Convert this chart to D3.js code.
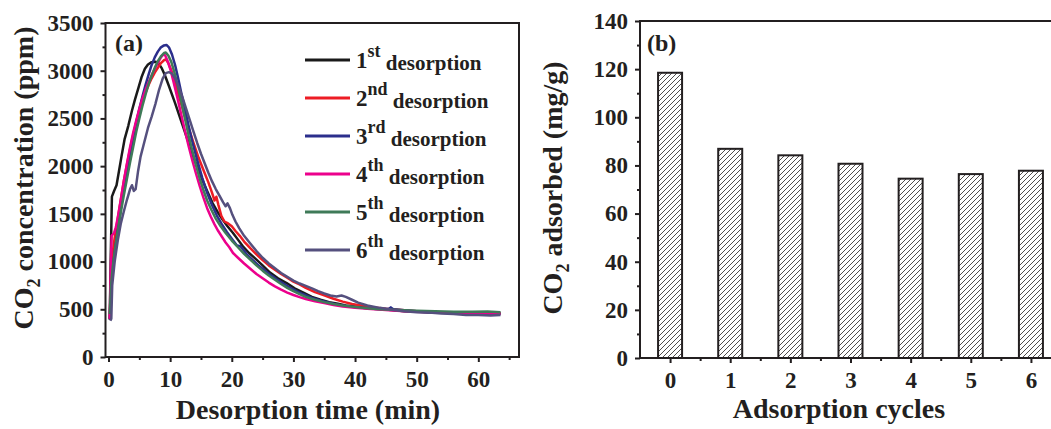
<!DOCTYPE html>
<html>
<head>
<meta charset="utf-8">
<script src="https://cdn.jsdelivr.net/npm/d3@7"></script>
<style>
  body { margin: 0; background: #fff; }
  svg text { font-family: "Liberation Serif", "Times New Roman", serif; font-weight: bold; fill: #231f20; }
</style>
</head>
<body>
<div id="chart"></div>
<script>
// ---- data: panel (a) CO2 concentration during desorption, [time (min), ppm]
const desorb1 = [[0.2,390],[0.35,1000],[0.55,1680],[0.9,1740],[1.3,1800],[1.7,1950],[2.1,2100],[2.6,2280],[3.2,2420],[3.8,2580],[4.3,2700],[4.9,2830],[5.4,2940],[5.9,3020],[6.4,3065],[7,3090],[7.6,3095],[8.1,3080],[8.6,3030],[9.1,2960],[9.8,2840],[10.8,2660],[11.9,2450],[12.8,2280],[13.6,2130],[14.4,1990],[15.2,1860],[16,1740],[16.9,1610],[17.7,1520],[18.5,1440],[19.3,1370],[20.2,1300],[21,1230],[21.8,1160],[22.8,1090],[24,1020],[25,960],[26.2,885],[27.5,825],[28.9,775],[30.2,720],[31.7,672],[33,630],[34.4,600],[35.8,575],[37.2,558],[38.5,540],[39.9,530],[41.3,520],[42.6,512],[44,505],[45.4,496],[46.8,488],[48.1,480],[50,476],[52,470],[53.6,470],[55.5,466],[57.5,464],[59.1,461],[61,462],[62.5,458],[63.6,460]];
const desorb2 = [[0.2,400],[0.4,800],[0.6,1050],[1,1250],[1.5,1450],[2,1650],[2.5,1850],[3,2020],[3.5,2180],[4,2330],[4.5,2460],[5,2580],[5.5,2680],[6,2770],[6.5,2850],[7,2920],[7.5,2980],[8,3030],[8.5,3080],[9,3110],[9.3,3120],[9.7,3080],[10.2,3000],[10.8,2880],[11.5,2720],[12.2,2560],[13,2400],[13.8,2240],[14.6,2090],[15.4,1960],[16.2,1830],[16.8,1720],[17.2,1640],[17.5,1680],[17.8,1600],[18.3,1480],[18.8,1420],[19.4,1400],[20,1370],[20.6,1320],[21.3,1270],[22,1210],[23,1140],[24,1075],[25,1015],[26,960],[27,915],[28,870],[29,830],[30,790],[31,760],[32,725],[33.5,680],[35,645],[36.5,610],[38,580],[39.5,555],[41,540],[43,520],[45,505],[47,495],[50,480],[53,470],[56,465],[59,460],[61.5,458],[63.6,455]];
const desorb3 = [[0.2,400],[0.5,850],[1,1100],[1.5,1330],[2,1550],[2.5,1760],[3,1950],[3.5,2130],[4,2300],[4.5,2460],[5,2600],[5.5,2730],[6,2850],[6.5,2960],[7,3060],[7.5,3140],[8,3200],[8.5,3245],[9,3265],[9.4,3270],[9.8,3245],[10.3,3170],[10.8,3060],[11.3,2920],[11.8,2770],[12.4,2600],[13,2420],[13.7,2230],[14.4,2060],[15.2,1880],[16,1720],[16.8,1590],[17.6,1480],[18.4,1390],[19.2,1310],[20,1240],[20.8,1170],[21.4,1160],[21.8,1130],[22.5,1070],[23.5,1010],[24.5,950],[25.5,900],[26.5,850],[27.5,805],[28.5,765],[29.5,725],[30.5,690],[31.5,660],[33,620],[34.5,590],[36,565],[37.5,545],[39,530],[40.5,520],[42,510],[44,500],[45.5,505],[45.8,520],[46.2,500],[48,490],[50,480],[53,472],[56,462],[59,455],[61.5,455],[63.6,450]];
const desorb4 = [[0.2,400],[0.35,900],[0.5,1270],[0.9,1300],[1.2,1360],[1.6,1500],[2,1650],[2.5,1850],[3,2030],[3.5,2200],[4,2350],[4.5,2480],[5,2600],[5.5,2710],[6,2800],[6.5,2880],[7,2950],[7.5,3020],[8,3080],[8.5,3140],[8.9,3170],[9.2,3160],[9.6,3100],[10.1,3000],[10.6,2870],[11.2,2710],[11.8,2540],[12.4,2370],[13,2210],[13.6,2060],[14.2,1920],[14.8,1790],[15.4,1670],[16,1560],[16.6,1470],[17.2,1390],[17.8,1320],[18.4,1260],[19,1200],[19.6,1150],[20.2,1090],[21,1040],[22,980],[23,925],[24,870],[25,825],[26,780],[27,740],[28,705],[29,675],[30,650],[31,628],[32,608],[33.5,585],[35,565],[36.5,545],[38,530],[40,515],[42,505],[45,492],[48,480],[51,472],[54,465],[57,460],[60,458],[62,455],[63.6,452]];
const desorb5 = [[0.2,450],[0.4,750],[0.7,950],[1,1100],[1.5,1320],[2,1520],[2.5,1700],[3,1870],[3.5,2040],[4,2200],[4.5,2360],[5,2500],[5.5,2630],[6,2750],[6.5,2860],[7,2950],[7.5,3030],[8,3100],[8.5,3150],[9,3185],[9.3,3190],[9.7,3160],[10.2,3090],[10.7,2980],[11.2,2850],[11.8,2680],[12.4,2500],[13,2320],[13.6,2160],[14.2,2010],[14.8,1870],[15.4,1750],[16,1640],[16.7,1540],[17.4,1450],[18.2,1370],[19,1300],[20,1220],[21,1150],[22,1080],[23,1020],[24,960],[25,905],[26,855],[27,810],[28,765],[29,725],[30,690],[31,660],[32,630],[33.5,600],[35,575],[36.5,555],[38,540],[40,525],[42,510],[44,500],[46,495],[48,490],[50,485],[53,480],[56,475],[59,475],[61.5,478],[63.6,470]];
const desorb6 = [[0.3,380],[0.45,400],[0.6,750],[1,1000],[1.5,1220],[2,1400],[2.5,1530],[3,1650],[3.5,1760],[3.8,1800],[4.1,1740],[4.4,1760],[4.8,1950],[5.2,2100],[5.8,2250],[6.4,2400],[7,2520],[7.6,2650],[8.2,2800],[8.8,2920],[9.3,2975],[9.8,2985],[10.3,2970],[10.8,2920],[11.4,2830],[12,2720],[12.6,2600],[13.2,2480],[13.8,2360],[14.4,2240],[15,2130],[15.6,2030],[16.2,1930],[16.8,1840],[17.4,1760],[18,1690],[18.6,1620],[19,1580],[19.3,1610],[19.7,1560],[20.1,1490],[20.6,1420],[21.2,1350],[22,1270],[23,1190],[24,1110],[25,1040],[26,980],[27,930],[28,880],[29,840],[30,800],[31,770],[32,745],[33,720],[34,690],[35,665],[36,645],[37,635],[37.8,645],[38.5,630],[39.5,600],[40.5,570],[42,540],[44,515],[46,495],[48,480],[50,470],[52,465],[54,455],[56,450],[58,440],[60,440],[62,435],[63.6,440]];

const seriesNames = ["1", "2", "3", "4", "5", "6"];
const seriesSup = ["st", "nd", "rd", "th", "th", "th"];
const seriesColors = ["#1a1a1a", "#ed1c24", "#2b2e8c", "#ec008c", "#3f7a58", "#55507e"];
const seriesData = [desorb1, desorb2, desorb3, desorb4, desorb5, desorb6];

// ---- data: panel (b) CO2 adsorbed per cycle
const cycles = [0, 1, 2, 3, 4, 5, 6];
const adsorbed = [118.5, 86.9, 84.2, 80.7, 74.5, 76.4, 77.8];

const ticksA_x = [0, 10, 20, 30, 40, 50, 60];
const ticksA_y = [0, 500, 1000, 1500, 2000, 2500, 3000, 3500];
const ticksB_y = [0, 20, 40, 60, 80, 100, 120, 140];

const W = 1051, H = 429;
const svg = d3.select("#chart").append("svg")
  .attr("width", W).attr("height", H);
svg.append("rect").attr("width", W).attr("height", H).attr("fill", "#fff");

const defs = svg.append("defs");
const hatch = defs.append("pattern")
  .attr("id", "hatch")
  .attr("patternUnits", "userSpaceOnUse")
  .attr("width", 5).attr("height", 5);
hatch.append("rect").attr("width", 5).attr("height", 5).attr("fill", "#fff");
hatch.append("path")
  .attr("d", "M-1,1 l2,-2 M0,5 l5,-5 M4,6 l2,-2")
  .attr("stroke", "#231f20").attr("stroke-width", 0.8);

function styleAxis(g, fontSize) {
  g.select(".domain").remove();
  g.selectAll(".tick line").attr("stroke", "#231f20").attr("stroke-width", 2);
  g.selectAll(".tick text").style("font-size", fontSize + "px");
}

// ================= panel (a) =================
const A = { left: 105.5, right: 519, top: 23, bottom: 357 };
const xA = d3.scaleLinear().domain([-0.49, 66.6]).range([A.left, A.right]);
const yA = d3.scaleLinear().domain([0, 3500]).range([A.bottom, A.top]);

const gA = svg.append("g");

// minor ticks
gA.append("g").attr("transform", `translate(0,${A.bottom})`)
  .call(d3.axisBottom(xA).tickValues(d3.range(5, 66, 10)).tickSize(3).tickFormat(""))
  .call(g => styleAxis(g, 22));
gA.append("g").attr("transform", `translate(${A.left},0)`)
  .call(d3.axisLeft(yA).tickValues(d3.range(250, 3500, 500)).tickSize(3).tickFormat(""))
  .call(g => styleAxis(g, 22));

gA.append("g").attr("transform", `translate(0,${A.bottom})`)
  .call(d3.axisBottom(xA).tickValues(ticksA_x).tickSize(5).tickPadding(9))
  .call(g => styleAxis(g, 23));
gA.append("g").attr("transform", `translate(${A.left},0)`)
  .call(d3.axisLeft(yA).tickValues(ticksA_y).tickSize(5).tickPadding(7).tickFormat(d3.format("d")))
  .call(g => styleAxis(g, 23));

const line = d3.line().x(d => xA(d[0])).y(d => yA(d[1])).curve(d3.curveLinear);
gA.selectAll("path.series")
  .data(seriesData)
  .join("path")
  .attr("class", "series")
  .attr("d", line)
  .attr("fill", "none")
  .attr("stroke", (d, i) => seriesColors[i])
  .attr("stroke-width", 2.5)
  .attr("stroke-linejoin", "round");

gA.append("rect")
  .attr("x", A.left).attr("y", A.top)
  .attr("width", A.right - A.left).attr("height", A.bottom - A.top)
  .attr("fill", "none").attr("stroke", "#231f20").attr("stroke-width", 2);

gA.append("text").attr("x", 115).attr("y", 51).style("font-size", "24px").text("(a)");

// legend
const legend = gA.append("g");
const rows = legend.selectAll("g").data(seriesNames).join("g")
  .attr("transform", (d, i) => `translate(305,${60 + i * 38})`);
rows.append("line")
  .attr("x1", 0).attr("x2", 45)
  .attr("stroke", (d, i) => seriesColors[i]).attr("stroke-width", 3);
const lt = rows.append("text").attr("x", 51).attr("y", 8);
lt.append("tspan").style("font-size", "23px").text(d => d);
lt.append("tspan").style("font-size", "18px").attr("dy", -11).text((d, i) => seriesSup[i]);
lt.append("tspan").style("font-size", "21px").attr("dy", 13).text(" desorption");

// axis titles
gA.append("text")
  .attr("x", 308).attr("y", 419)
  .attr("text-anchor", "middle").style("font-size", "28px")
  .text("Desorption time (min)");
const tA = gA.append("text")
  .attr("transform", "translate(33,178) rotate(-90)")
  .attr("text-anchor", "middle").style("font-size", "28px");
tA.append("tspan").text("CO");
tA.append("tspan").attr("dy", 7).style("font-size", "18px").text("2");
tA.append("tspan").attr("dy", -7).text(" concentration (ppm)");

// ================= panel (b) =================
const B = { left: 640, right: 1061, top: 21, bottom: 358 };
const xB = d3.scaleLinear().domain([-0.5, 6.5]).range([B.left, B.right]);
const yB = d3.scaleLinear().domain([0, 140]).range([B.bottom, B.top]);
const barW = 24;

const gB = svg.append("g");
gB.append("g").attr("transform", `translate(0,${B.bottom})`)
  .call(d3.axisBottom(xB).tickValues(d3.range(0.5, 6, 1)).tickSize(3).tickFormat(""))
  .call(g => styleAxis(g, 22));
gB.append("g").attr("transform", `translate(${B.left},0)`)
  .call(d3.axisLeft(yB).tickValues(d3.range(10, 140, 20)).tickSize(3).tickFormat(""))
  .call(g => styleAxis(g, 22));
gB.append("g").attr("transform", `translate(0,${B.bottom})`)
  .call(d3.axisBottom(xB).tickValues(cycles).tickSize(5).tickPadding(9).tickFormat(d3.format("d")))
  .call(g => styleAxis(g, 23));
gB.append("g").attr("transform", `translate(${B.left},0)`)
  .call(d3.axisLeft(yB).tickValues(ticksB_y).tickSize(5).tickPadding(7))
  .call(g => styleAxis(g, 23));

gB.selectAll("rect.bar")
  .data(adsorbed)
  .join("rect")
  .attr("class", "bar")
  .attr("x", (d, i) => xB(cycles[i]) - barW / 2)
  .attr("y", d => yB(d))
  .attr("width", barW)
  .attr("height", d => yB(0) - yB(d))
  .attr("fill", "url(#hatch)")
  .attr("stroke", "#231f20").attr("stroke-width", 2);

gB.append("rect")
  .attr("x", B.left).attr("y", B.top)
  .attr("width", B.right - B.left).attr("height", B.bottom - B.top)
  .attr("fill", "none").attr("stroke", "#231f20").attr("stroke-width", 2);

gB.append("text").attr("x", 647).attr("y", 51).style("font-size", "24px").text("(b)");

gB.append("text")
  .attr("x", 839).attr("y", 418)
  .attr("text-anchor", "middle").style("font-size", "28px")
  .text("Adsorption cycles");
const tB = gB.append("text")
  .attr("transform", "translate(562,188) rotate(-90)")
  .attr("text-anchor", "middle").style("font-size", "28px");
tB.append("tspan").text("CO");
tB.append("tspan").attr("dy", 7).style("font-size", "18px").text("2");
tB.append("tspan").attr("dy", -7).text(" adsorbed (mg/g)");
</script>
</body>
</html>
